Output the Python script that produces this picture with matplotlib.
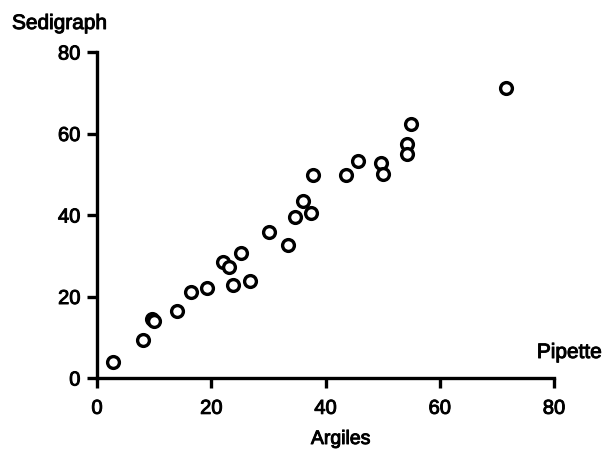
import matplotlib
matplotlib.use("Agg")
import matplotlib.pyplot as plt
import matplotlib.patheffects as pe

pipette = [2.8, 8.1, 9.6, 10.0, 14.0, 16.5, 19.3, 22.1, 23.1, 23.8, 25.2, 26.8,
           30.1, 33.4, 34.7, 36.1, 37.5, 37.8, 43.6, 45.7, 49.7, 50.1, 54.3, 54.3,
           55.0, 71.6]
sedigraph = [3.9, 9.3, 14.5, 14.0, 16.4, 21.1, 22.1, 28.5, 27.2, 22.8, 30.7, 23.8,
             35.8, 32.6, 39.5, 43.4, 40.5, 49.8, 49.8, 53.3, 52.8, 50.1, 57.4, 55.0,
             62.3, 71.2]
ticks = [0, 20, 40, 60, 80]

plt.rcParams['font.family'] = ['Liberation Sans', 'DejaVu Sans']
thick = [pe.withStroke(linewidth=0.7, foreground='black')]

fig = plt.figure(figsize=(6.04, 4.54), dpi=100)
ax = fig.add_axes([97/604, 76/454, 457/604, 326/454])
ax.plot(pipette, sedigraph, linestyle='none', marker='o', markersize=8.5,
        markerfacecolor='white', markeredgecolor='black', markeredgewidth=2.4,
        clip_on=False)
ax.set_xlim(0, 80)
ax.set_ylim(0, 80)
ax.set_xticks(ticks)
ax.set_yticks(ticks)
for s in ['top', 'right']:
    ax.spines[s].set_visible(False)
for s in ['left', 'bottom']:
    ax.spines[s].set_linewidth(2.4)
ax.tick_params(direction='out', length=7, width=2.4, labelsize=14.5, pad=5)
ax.tick_params(axis='x', pad=8)
for lbl in ax.get_xticklabels() + ax.get_yticklabels():
    lbl.set_path_effects(thick)
fig.text(341/604, 1 - 444/454, 'Argiles', fontsize=14, ha='center', va='baseline',
         path_effects=thick)
fig.text(12/604, 1 - 29/454, 'Sedigraph', fontsize=15, ha='left', va='baseline',
         path_effects=thick)
fig.text(602/604, 1 - 358/454, 'Pipette', fontsize=15, ha='right', va='baseline',
         path_effects=thick)
fig.savefig('out.png', dpi=100)
